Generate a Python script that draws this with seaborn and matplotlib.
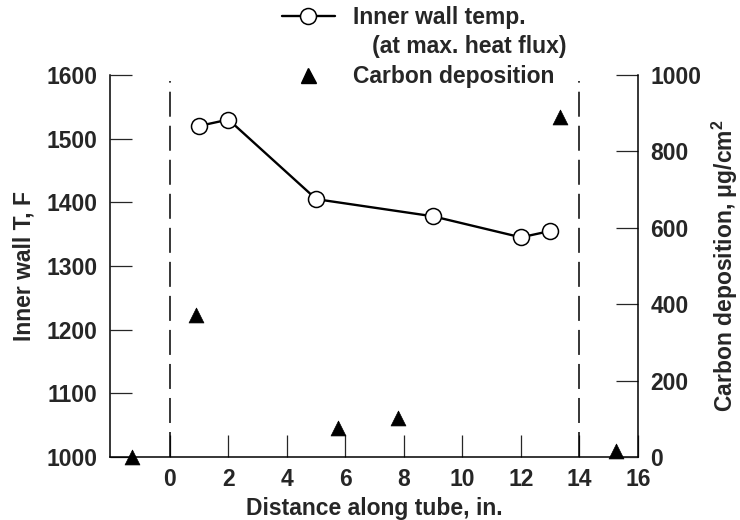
import matplotlib
matplotlib.use("Agg")
import matplotlib.pyplot as plt
from matplotlib.lines import Line2D
import seaborn as sns

# ---- data ----
temp_x = [1, 2, 5, 9, 12, 13]
temp_vals = [1520, 1530, 1405, 1378, 1345, 1355]
carbon_x = [-1.3, 0.9, 5.75, 7.8, 13.35, 15.25]
carbon_vals = [0, 372, 77, 101, 890, 15]
tube_ends = [0, 14]
x_ticks = [0, 2, 4, 6, 8, 10, 12, 14, 16]
left_ticks = [1000, 1100, 1200, 1300, 1400, 1500, 1600]
right_ticks = [0, 200, 400, 600, 800, 1000]

sns.set_style("ticks")
plt.rcParams["font.family"] = ["Liberation Sans", "DejaVu Sans"]
plt.rcParams["font.weight"] = "bold"
plt.rcParams["lines.scale_dashes"] = False
plt.rcParams["mathtext.fontset"] = "custom"
plt.rcParams["mathtext.rm"] = "Liberation Sans:bold"
plt.rcParams["mathtext.bf"] = "Liberation Sans:bold"
plt.rcParams["mathtext.default"] = "bf"

FS = 16.5
fig = plt.figure(figsize=(7.4, 5.2), dpi=100)
ax = fig.add_axes([110 / 740, 1 - 457 / 520, (638 - 110) / 740, (457 - 75) / 520])

for xe in tube_ends:
    ax.axvline(xe, ymin=0, ymax=0.985, color="black", lw=1.1, linestyle=(0, (18, 6.5)), zorder=1)

sns.lineplot(x=temp_x, y=temp_vals, ax=ax, color="black", lw=1.7, marker="o",
             markersize=11.5, markerfacecolor="white", markeredgecolor="black",
             markeredgewidth=1.1, legend=False, zorder=3)

ax2 = ax.twinx()
sns.scatterplot(x=carbon_x, y=carbon_vals, ax=ax2, marker="^", color="black", s=115,
                edgecolor="black", linewidth=0.5, clip_on=False, legend=False, zorder=3)

ax.set_xlim(-2.05, 16)
ax.set_ylim(1000, 1600)
ax2.set_ylim(0, 1000)
ax.set_xticks(x_ticks)
ax.set_yticks(left_ticks)
ax2.set_yticks(right_ticks)

for a in (ax, ax2):
    a.spines["top"].set_visible(False)
    for s in a.spines.values():
        s.set_linewidth(1.1)
        s.set_color("black")
ax.spines["right"].set_visible(False)
ax2.spines["left"].set_visible(False)
ax2.spines["bottom"].set_visible(False)

ax.tick_params(axis="x", direction="in", length=16, width=0.9, pad=8, labelsize=FS)
ax.tick_params(axis="y", direction="in", length=16, width=0.9, pad=9, labelsize=FS)
ax2.tick_params(axis="y", direction="in", length=16, width=0.9, pad=9, labelsize=FS)
for lab in ax.get_xticklabels() + ax.get_yticklabels() + ax2.get_yticklabels():
    lab.set_fontweight("bold")

ax.set_xlabel("Distance along tube, in.", fontsize=FS, fontweight="bold", labelpad=4)
ax.set_ylabel("Inner wall T, F", fontsize=FS, fontweight="bold", labelpad=8)
ax2.set_ylabel("Carbon deposition, μg/cm$^{2}$", fontsize=FS, fontweight="bold", labelpad=6)

handles = [
    Line2D([0], [0], color="black", lw=1.7, marker="o", ms=11.5, mfc="white",
           mec="black", mew=1.1),
    Line2D([], [], linestyle="none"),
    Line2D([0], [0], linestyle="none", marker="^", ms=10.8, color="black"),
]
labels = ["Inner wall temp.", "   (at max. heat flux)", "Carbon deposition"]
fig.legend(handles, labels, loc="upper left", bbox_to_anchor=(282 / 740, 0.988),
           frameon=False, borderpad=0, borderaxespad=0, handlelength=2.3,
           handletextpad=0.8, labelspacing=0.27, prop=dict(weight="bold", size=FS))

fig.savefig("out.png", dpi=100)
